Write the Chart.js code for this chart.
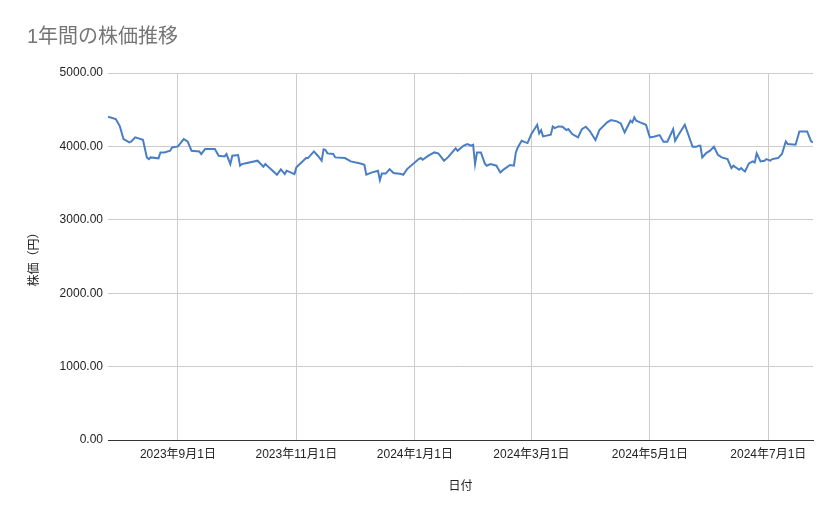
<!DOCTYPE html>
<html>
<head>
<meta charset="utf-8">
<script src="https://cdn.jsdelivr.net/npm/chart.js@4.4.1/dist/chart.umd.min.js"></script>
<style>
html,body{margin:0;padding:0;background:#fff;}
#wrap{width:839px;height:519px;position:relative;}
</style>
</head>
<body>
<div id="wrap"><canvas id="c"></canvas></div>
<script>
const dates = [
'2023-07-27','2023-07-31','2023-08-02','2023-08-04','2023-08-07','2023-08-08','2023-08-10','2023-08-14',
'2023-08-16','2023-08-17','2023-08-18','2023-08-22','2023-08-23','2023-08-25','2023-08-28','2023-08-29',
'2023-09-01','2023-09-04','2023-09-06','2023-09-08','2023-09-12','2023-09-13','2023-09-15','2023-09-20',
'2023-09-22','2023-09-25','2023-09-26','2023-09-28','2023-09-29','2023-10-02','2023-10-03','2023-10-04',
'2023-10-06','2023-10-12','2023-10-15','2023-10-16','2023-10-22','2023-10-24','2023-10-26','2023-10-27',
'2023-10-31','2023-11-01','2023-11-06','2023-11-07','2023-11-10','2023-11-12','2023-11-14','2023-11-15',
'2023-11-16','2023-11-17','2023-11-20','2023-11-21','2023-11-26','2023-11-29','2023-12-04','2023-12-06',
'2023-12-07','2023-12-10','2023-12-13','2023-12-14','2023-12-15','2023-12-17','2023-12-19','2023-12-21',
'2023-12-25','2023-12-26','2023-12-28','2024-01-03','2024-01-04','2024-01-05','2024-01-08','2024-01-11',
'2024-01-13','2024-01-14','2024-01-16','2024-01-18','2024-01-22','2024-01-23','2024-01-26','2024-01-28',
'2024-01-30','2024-01-31','2024-02-01','2024-02-02','2024-02-04','2024-02-06','2024-02-07','2024-02-09',
'2024-02-12','2024-02-14','2024-02-16','2024-02-19','2024-02-21','2024-02-22','2024-02-23','2024-02-25',
'2024-02-27','2024-02-28','2024-03-01','2024-03-04','2024-03-05','2024-03-06','2024-03-07','2024-03-11',
'2024-03-12','2024-03-13','2024-03-15','2024-03-17','2024-03-19','2024-03-20','2024-03-22','2024-03-25',
'2024-03-27','2024-03-29','2024-03-31','2024-04-03','2024-04-05','2024-04-09','2024-04-11','2024-04-14',
'2024-04-16','2024-04-18','2024-04-21','2024-04-22','2024-04-23','2024-04-24','2024-04-26','2024-04-29',
'2024-05-01','2024-05-03','2024-05-06','2024-05-08','2024-05-10','2024-05-13','2024-05-14','2024-05-16',
'2024-05-19','2024-05-23','2024-05-25','2024-05-26','2024-05-27','2024-05-28','2024-05-30','2024-06-01',
'2024-06-03','2024-06-05','2024-06-07','2024-06-10','2024-06-12','2024-06-13','2024-06-16','2024-06-17',
'2024-06-18','2024-06-19','2024-06-21','2024-06-23','2024-06-24','2024-06-25','2024-06-27','2024-06-29',
'2024-06-30','2024-07-02','2024-07-03','2024-07-06','2024-07-08','2024-07-10','2024-07-11','2024-07-15',
'2024-07-17','2024-07-21','2024-07-23','2024-07-24'
];
const prices = [
4404,4372,4281,4100,4054,4068,4123,4091,
3850,3827,3850,3837,3918,3918,3941,3986,
4000,4100,4068,3941,3932,3896,3964,3964,
3873,3864,3896,3759,3873,3882,3737,3759,
3770,3805,3723,3759,3614,3687,3623,3669,
3623,3714,3841,3841,3932,3873,3805,3959,
3950,3905,3896,3850,3841,3796,3768,3750,
3614,3646,3669,3541,3632,3630,3690,3637,
3623,3614,3691,3827,3841,3818,3873,3918,
3905,3873,3805,3850,3973,3941,4009,4032,
4009,4023,3759,3918,3918,3768,3737,3759,
3737,3646,3691,3746,3737,3918,3986,4077,
4054,4045,4168,4295,4177,4222,4136,4159,
4272,4250,4272,4268,4222,4236,4168,4123,
4236,4268,4213,4086,4222,4327,4359,4341,
4313,4191,4350,4327,4395,4350,4327,4295,
4123,4132,4154,4064,4064,4236,4077,4168,
4295,3995,3995,4009,4009,3850,3909,3941,
3995,3886,3850,3827,3705,3737,3682,3705,
3678,3659,3768,3796,3782,3905,3796,3805,
3827,3805,3827,3841,3896,4068,4032,4023,
4204,4204,4068,4054
];
const xTickDates = ['2023-09-01','2023-11-01','2024-01-01','2024-03-01','2024-05-01','2024-07-01'];
const yTicks = [0,1000,2000,3000,4000,5000];

const toTs = s => { const [y,m,d] = s.split('-').map(Number); return Date.UTC(y, m-1, d); };
const fmt = v => { const d = new Date(v); return d.getUTCFullYear() + '年' + (d.getUTCMonth()+1) + '月' + d.getUTCDate() + '日'; };
const points = dates.map((d,i) => ({x: toTs(d), y: prices[i]}));
const FONT = "Arial, 'Liberation Sans', 'Noto Sans CJK JP', sans-serif";

new Chart(document.getElementById('c'), {
  type: 'line',
  data: { datasets: [{
    data: points,
    borderColor: '#4a7ec4',
    borderWidth: 2,
    pointRadius: 0,
    tension: 0,
    fill: false
  }]},
  options: {
    responsive: true,
    maintainAspectRatio: false,
    animation: false,
    layout: { padding: { left: 27, right: 26, top: 0, bottom: 0 } },
    plugins: {
      legend: { display: false },
      tooltip: { enabled: false },
      title: {
        display: true,
        text: '1年間の株価推移',
        align: 'start',
        color: '#757575',
        font: { family: FONT, size: 20, weight: 'normal' },
        padding: { top: 25, bottom: 24 }
      }
    },
    scales: {
      x: {
        type: 'linear',
        min: toTs(dates[0]),
        max: toTs(dates[dates.length-1]),
        afterBuildTicks: s => { s.ticks = xTickDates.map(d => ({value: toTs(d)})); },
        afterFit: s => { s.height = 79; },
        ticks: { callback: v => fmt(v), color: '#222', font: { family: FONT, size: 12 }, padding: 7, maxRotation: 0, autoSkip: false },
        grid: { color: '#cccccc', drawTicks: false },
        border: { display: true, color: '#333333', width: 1 },
        title: { display: true, text: '日付', color: '#222', font: { family: FONT, size: 12 }, padding: { top: 0, bottom: 25 } }
      },
      y: {
        min: 0,
        max: 5000,
        afterBuildTicks: s => { s.ticks = yTicks.map(v => ({value: v})); },
        afterFit: s => { s.width = 81; },
        ticks: { callback: v => Number(v).toFixed(2), color: '#222', font: { family: FONT, size: 12 }, padding: 5 },
        grid: { color: '#cccccc', drawTicks: false },
        border: { display: false },
        title: { display: true, text: '株価（円）', color: '#222', font: { family: FONT, size: 12 }, padding: { top: 0, bottom: 0 } }
      }
    }
  }
});
</script>
</body>
</html>
